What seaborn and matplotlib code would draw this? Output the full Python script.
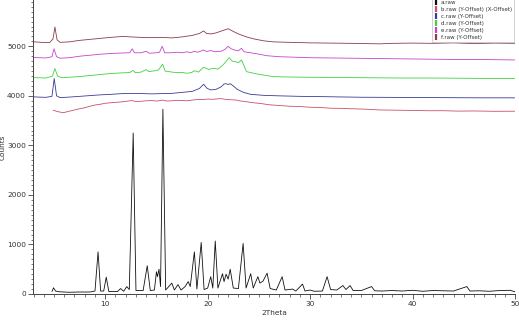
import matplotlib
matplotlib.use("Agg")
import matplotlib.pyplot as plt
from matplotlib.lines import Line2D
from matplotlib.ticker import MultipleLocator
import seaborn as sns
import pandas as pd

# ---- data (2Theta, Counts) ----
a_x = [4.8, 4.95, 5.15, 5.5, 6.5, 7.5, 8.5, 9.0, 9.3, 9.55, 9.85, 10.1, 10.35, 11.2, 11.5, 11.8,
       12.1, 12.35, 12.73, 13.0, 13.7, 14.1, 14.4, 14.8, 15.0, 15.1, 15.25, 15.4, 15.63, 15.9,
       16.5, 16.75, 17.1, 17.4, 17.8, 18.1, 18.3, 18.7, 18.95, 19.37, 19.65, 20.0, 20.3, 20.5,
       20.74, 21.0, 21.45, 21.6, 21.8, 22.0, 22.2, 22.5, 23.0, 23.46, 23.75, 24.2, 24.45, 24.9,
       25.1, 25.4, 25.8, 26.1, 26.7, 27.27, 27.55, 28.3, 28.6, 29.26, 29.5, 30.0, 30.4, 31.2,
       31.66, 32.0, 32.6, 33.2, 33.5, 33.9, 34.2, 35.0, 36.0, 36.3, 37.0, 38.0, 39.0, 40.0,
       41.0, 42.0, 43.0, 44.0, 45.3, 45.6, 46.5, 47.5, 48.5, 49.5, 50.0]
a_y = [50, 125, 60, 45, 35, 40, 40, 60, 850, 60, 60, 340, 50, 50, 110, 55,
       150, 90, 3250, 70, 70, 570, 70, 80, 450, 350, 500, 150, 3730, 80,
       220, 80, 190, 80, 150, 250, 150, 850, 100, 1040, 90, 120, 350, 120,
       1070, 120, 410, 250, 400, 300, 500, 120, 110, 1020, 120, 410, 120, 350,
       220, 260, 420, 110, 80, 350, 80, 100, 60, 200, 60, 80, 55, 60,
       350, 90, 80, 170, 90, 170, 70, 70, 150, 65, 60, 70, 60, 75,
       55, 70, 65, 60, 150, 60, 65, 55, 70, 75, 45]

b_x = [4.93, 5.4, 5.9, 6.5, 7.0, 7.5, 8.0, 8.5, 9.0, 9.5, 10.0, 10.5, 11.1, 11.7, 12.6, 13.0,
       13.5, 14.0, 14.5, 15.1, 15.6, 16.0, 16.5, 17.0, 17.5, 18.0, 18.5, 19.0, 19.5, 20.0,
       20.5, 21.3, 21.7, 22.0, 22.8, 23.2, 23.5, 24.0, 24.5, 25.2, 26.0, 27.0, 28.0, 29.0,
       30.0, 31.0, 32.0, 33.0, 34.0, 35.5, 36.8, 38.0, 40.0, 41.5, 43.0, 44.5, 46.0, 48.0, 50.0]
b_y = [3710, 3680, 3660, 3690, 3715, 3740, 3760, 3790, 3815, 3830, 3850, 3860, 3870, 3880, 3905,
       3885, 3890, 3900, 3905, 3895, 3915, 3895, 3900, 3910, 3905, 3900, 3915, 3925, 3925, 3935,
       3930, 3945, 3930, 3925, 3915, 3895, 3890, 3875, 3860, 3845, 3820, 3805, 3790, 3785,
       3770, 3765, 3750, 3748, 3740, 3730, 3715, 3712, 3705, 3700, 3700, 3692, 3695, 3688, 3690]

c_x = [2.95, 3.5, 4.2, 4.8, 5.02, 5.25, 5.6, 6.5, 7.5, 8.5, 9.5, 10.5, 11.7, 13.0, 14.5,
       15.5, 16.5, 17.5, 18.5, 19.2, 19.6, 19.95, 20.3, 20.8, 21.3, 21.6, 21.8, 22.0, 22.2,
       22.5, 22.9, 23.5, 24.2, 25.5, 27.0, 29.0, 31.0, 33.0, 35.0, 37.0, 39.0, 41.0, 43.0,
       45.0, 47.0, 49.0, 50.0]
c_y = [3980, 3975, 3970, 3990, 4350, 4000, 3965, 3975, 3990, 4005, 4020, 4030, 4046, 4050, 4040,
       4045, 4050, 4070, 4090, 4150, 4234, 4150, 4120, 4130, 4180, 4240, 4245, 4230, 4245,
       4200, 4130, 4070, 4030, 4010, 4000, 3990, 3985, 3978, 3972, 3970, 3968, 3966, 3964,
       3962, 3960, 3960, 3960]

d_x = [2.95, 3.5, 4.2, 4.85, 5.09, 5.35, 5.7, 6.5, 7.5, 8.5, 9.5, 10.5, 11.7, 12.4, 12.7,
       12.95, 13.5, 14.0, 14.25, 14.8, 15.2, 15.6, 15.85, 16.5, 17.0, 17.5, 17.95, 18.4, 18.75,
       19.1, 19.6, 20.1, 20.6, 21.0, 21.5, 22.1, 22.4, 22.7, 23.0, 23.3, 23.8, 24.8, 26.4,
       28.0, 30.0, 33.0, 36.0, 39.0, 42.0, 45.0, 48.0, 50.0]
d_y = [4370, 4365, 4360, 4400, 4550, 4400, 4370, 4375, 4390, 4410, 4430, 4450, 4465, 4470, 4515,
       4465, 4480, 4530, 4490, 4505, 4523, 4640, 4500, 4480, 4470, 4475, 4456, 4470, 4508,
       4480, 4577, 4535, 4557, 4540, 4623, 4771, 4700, 4690, 4670, 4725, 4488, 4442, 4388,
       4380, 4375, 4370, 4365, 4360, 4360, 4355, 4350, 4350]

e_x = [2.95, 3.5, 4.2, 4.8, 5.0, 5.25, 5.6, 6.5, 7.5, 8.5, 9.5, 10.5, 11.7, 12.4, 12.63,
       12.85, 13.5, 14.0, 14.3, 15.0, 15.3, 15.56, 15.8, 16.5, 17.0, 17.5, 18.0, 18.3, 18.7,
       19.0, 19.3, 19.6, 19.9, 20.3, 20.7, 21.3, 21.7, 22.0, 22.3, 22.7, 23.0, 23.3, 23.55,
       24.2, 24.9, 25.8, 27.0, 28.5, 30.0, 32.0, 34.0, 36.0, 38.0, 40.0, 42.0, 44.0, 46.0,
       48.0, 50.0]
e_y = [4775, 4770, 4765, 4790, 4950, 4790, 4760, 4770, 4800, 4820, 4840, 4855, 4865, 4870, 4950,
       4870, 4870, 4900, 4860, 4870, 4880, 5000, 4870, 4870, 4880, 4870, 4890, 4870, 4900,
       4880, 4900, 4925, 4895, 4915, 4890, 4900, 4940, 5000, 4950, 4920, 4910, 4960, 4890,
       4870, 4845, 4810, 4790, 4780, 4770, 4765, 4760, 4755, 4750, 4745, 4740, 4735, 4735,
       4730, 4725]

f_x = [2.95, 3.5, 4.0, 4.6, 4.9, 5.09, 5.3, 5.6, 6.5, 7.5, 8.5, 9.5, 10.5, 11.7, 12.5,
       13.5, 14.5, 15.5, 16.5, 17.5, 18.5, 19.2, 19.6, 19.9, 20.3, 20.8, 21.5, 22.0, 22.5,
       23.0, 23.8, 24.5, 25.5, 26.4, 28.0, 30.0, 32.0, 34.0, 36.8, 38.0, 40.0, 42.0, 44.0,
       46.0, 48.0, 50.0]
f_y = [5090, 5085, 5075, 5080, 5150, 5390, 5130, 5080, 5090, 5120, 5140, 5160, 5180, 5200, 5190,
       5180, 5175, 5180, 5170, 5190, 5220, 5260, 5310, 5260, 5250, 5270, 5320, 5355, 5300,
       5250, 5190, 5150, 5110, 5090, 5080, 5070, 5065, 5060, 5050, 5060, 5065, 5060, 5070,
       5055, 5065, 5060]

labels = ["a.raw", "b.raw (Y-Offset) (X-Offset)", "c.raw (Y-Offset)",
          "d.raw (Y-Offset)", "e.raw (Y-Offset)", "f.raw (Y-Offset)"]
colors = ["#111111", "#c8506a", "#3a3a9a", "#3fd23f", "#c545c8", "#8a3c48"]
series = [(a_x, a_y), (b_x, b_y), (c_x, c_y), (d_x, d_y), (e_x, e_y), (f_x, f_y)]

x_ticks = [10, 20, 30, 40, 50]
y_ticks = [0, 1000, 2000, 3000, 4000, 5000]

# ---- figure ----
sns.set_style("ticks")
plt.rcParams["font.family"] = ["DejaVu Sans"]

fig = plt.figure(figsize=(5.19, 3.24), dpi=100)
ax = fig.add_axes([33 / 519, 30 / 324, (515 - 33) / 519, 294 / 324])

for (xs, ys), lab, col in zip(series, labels, colors):
    df = pd.DataFrame({"2Theta": xs, "Counts": ys})
    sns.lineplot(data=df, x="2Theta", y="Counts", ax=ax, color=col, linewidth=0.6,
                 sort=False, estimator=None, legend=False)

ax.set_xlim(2.95, 50)
ax.set_ylim(0, 5935)
ax.set_xticks(x_ticks)
ax.set_yticks(y_ticks)
ax.xaxis.set_minor_locator(MultipleLocator(1))
ax.yaxis.set_minor_locator(MultipleLocator(100))
ax.tick_params(axis="both", which="major", labelsize=5.3, length=3.5, width=0.6,
               color="#444444", labelcolor="#333333", pad=1.5)
ax.tick_params(axis="both", which="minor", length=1.8, width=0.5, color="#444444")
for s in ["top", "right"]:
    ax.spines[s].set_visible(False)
for s in ["left", "bottom"]:
    ax.spines[s].set_linewidth(0.7)
    ax.spines[s].set_color("#444444")

ax.set_xlabel("2Theta", fontsize=5.3, color="#333333")
ax.set_ylabel("Counts", fontsize=5.3, color="#333333")
ax.xaxis.set_label_coords(0.5, -16 / 294)
ax.yaxis.set_label_coords(-27 / 482, 0.5)

handles = [Line2D([0], [0], linestyle="none", marker="|", markersize=4.5,
                  markeredgewidth=1.6, color=c) for c in colors]
leg = ax.legend(handles, labels, loc="upper right", bbox_to_anchor=(514 / 519, 1.005),
                bbox_transform=fig.transFigure, fontsize=4, frameon=True, fancybox=False,
                handlelength=0.6, handletextpad=0.6, borderpad=0.35, labelspacing=0.35,
                borderaxespad=0)
leg.get_frame().set_edgecolor("#bbbbbb")
leg.get_frame().set_linewidth(0.6)
for t in leg.get_texts():
    t.set_color("#333333")

fig.savefig("out.png", dpi=100)
